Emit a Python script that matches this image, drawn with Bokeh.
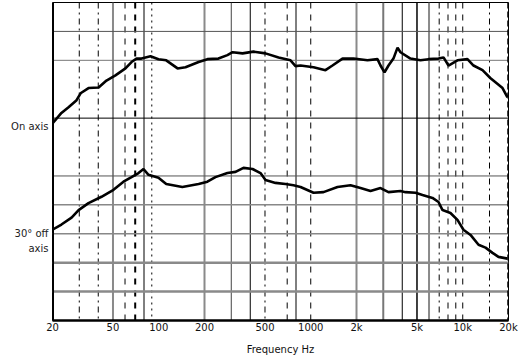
from bokeh.plotting import figure
from bokeh.models import Range1d, FixedTicker, Span
from bokeh.embed import file_html
from bokeh.resources import INLINE

# ---- data ----
on_freq = [20, 22.9, 25.5, 28.8, 30.6, 34.5, 40.2, 45.3, 51.9, 60.4, 66.2, 71.4, 77, 88.3, 99.6,
           112, 133, 150, 183, 209, 247, 283, 306, 356, 420, 504, 614, 736, 794, 857, 1043,
           1250, 1390, 1618, 1910, 2361, 2748, 2877, 3057, 3248, 3500, 3724, 3893, 4530,
           5273, 5954, 6925, 7472, 8058, 9232, 10740, 11770, 13490, 15240, 16420, 18270, 19690]
on_db = [34.1, 35.9, 36.9, 38.1, 39.3, 40.2, 40.3, 41.5, 42.4, 43.6, 44.7, 45.3, 45.3, 45.7, 45.2,
         45.0, 43.6, 43.8, 44.7, 45.2, 45.3, 45.9, 46.4, 46.2, 46.5, 46.2, 45.5, 45.0, 44.0, 44.1, 43.8,
         43.3, 44.1, 45.3, 45.3, 45.0, 45.2, 44.1, 42.9, 44.1, 45.3, 47.2, 46.4, 45.3,
         45.0, 45.2, 45.3, 45.5, 44.1, 45.0, 45.2, 44.1, 43.3, 41.9, 41.2, 40.2, 38.6]

off_freq = [20, 22.9, 26.7, 29.7, 34.5, 42.0, 50.4, 58.6, 66.2, 73.6, 79.4, 85.6, 99.6, 112,
            143, 183, 209, 236, 283, 320, 361, 414, 467, 504, 586, 682, 770, 857, 1043, 1213,
            1500, 1827, 2126, 2472, 2877, 3248, 3893, 4200, 4888, 5436, 6325, 6925, 7364, 8300,
            9232, 10110, 11250, 12700, 14120, 15700, 17180, 19690]
off_db = [15.7, 16.6, 17.8, 19.1, 20.3, 21.4, 22.6, 24.0, 24.8, 25.5, 26.2, 25.2, 24.7, 23.6,
          23.1, 23.6, 24.0, 24.8, 25.5, 25.7, 26.4, 26.2, 25.5, 24.3, 23.8, 23.6, 23.4, 23.1, 22.1, 22.2,
          23.1, 23.4, 22.9, 22.4, 22.9, 22.2, 22.4, 22.2, 22.1, 21.7, 21.2, 20.5, 19.1, 18.6,
          17.4, 15.7, 14.8, 13.1, 12.6, 11.7, 11.0, 10.7]

tick_freqs = [20, 50, 100, 200, 500, 1000, 2000, 5000, 10000, 20000]
tick_labels = ["20", "50", "100", "200", "500", "1000", "2k", "5k", "10k", "20k"]

vgrid_freqs = [30, 40, 50, 60, 70, 80, 90, 200, 300, 400, 500, 700, 800, 1000,
               2000, 3000, 4000, 5000, 6000, 7000, 8000, 9000, 10000, 15000]
hgrid_db = [50, 45, 35, 25, 20, 15, 10, 5]

series_label_db = [33.6, 15.0, 12.5]
series_labels = ["On axis", "30\u00b0 off", "axis"]

# ---- styles ----
vstyle = {
    30: ("black", 1, "dashdot"), 40: ("black", 1, "dashdot"), 50: ("#8a8a8a", 2, "solid"),
    60: ("black", 1, "dashed"), 70: ("black", 2, "dashed"), 80: ("black", 1, "solid"),
    90: ("black", 1, "dotted"), 200: ("#8a8a8a", 2, "solid"), 300: ("#444444", 1, "solid"),
    400: ("black", 1, "solid"), 500: ("black", 1, "dashdot"), 700: ("black", 1, "dashed"),
    800: ("black", 1, "solid"), 1000: ("black", 1, "dashed"), 2000: ("#8a8a8a", 2, "solid"),
    3000: ("#777777", 2, "solid"), 4000: ("black", 1, "solid"), 5000: ("black", 1.5, "solid"),
    6000: ("#8a8a8a", 2, "solid"), 7000: ("black", 1, "dashdot"), 8000: ("black", 1, "dashed"),
    9000: ("black", 1, "dashed"), 10000: ("black", 1, "dashed"), 15000: ("black", 1, "dashdot"),
}
hstyle = {50: ("#555555", 1), 45: ("#777777", 1), 35: ("black", 1), 25: ("#555555", 1),
          20: ("#888888", 1.5), 15: ("#888888", 1.5), 10: ("#8a8a8a", 2.5), 5: ("#8a8a8a", 2.5)}

FONT = "DejaVu Sans"

p = figure(width=518, height=357, x_axis_type="log",
           x_range=Range1d(20, 20000), y_range=Range1d(0, 55),
           output_backend="svg", toolbar_location=None,
           min_border_left=52, min_border_right=10, min_border_top=2, min_border_bottom=10)
p.background_fill_color = "white"
p.border_fill_color = "white"
p.outline_line_color = "black"
p.outline_line_width = 1
p.xgrid.visible = False
p.ygrid.visible = False

for f in vgrid_freqs:
    c, w, d = vstyle[f]
    p.add_layout(Span(location=f, dimension="height", line_color=c, line_width=w,
                      line_dash=d, level="underlay"))
for v in hgrid_db:
    c, w = hstyle[v]
    p.add_layout(Span(location=v, dimension="width", line_color=c, line_width=w,
                      level="underlay"))
# frame edges
p.add_layout(Span(location=20, dimension="height", line_color="black", line_width=3))
p.add_layout(Span(location=20000, dimension="height", line_color="black", line_width=2.5,
                  line_dash="6 3"))

p.line(on_freq, on_db, line_color="black", line_width=2.6)
p.line(off_freq, off_db, line_color="black", line_width=2.6)

# x axis
p.xaxis.ticker = FixedTicker(ticks=tick_freqs, minor_ticks=[])
p.xaxis.major_label_overrides = {f: l for f, l in zip(tick_freqs, tick_labels)}
p.xaxis.major_tick_line_color = None
p.xaxis.minor_tick_line_color = None
p.xaxis.major_tick_out = 0
p.xaxis.major_tick_in = 0
p.xaxis.minor_tick_out = 0
p.xaxis.axis_line_color = "black"
p.xaxis.axis_line_width = 2.5
p.xaxis.major_label_standoff = 1
p.xaxis.major_label_text_font = FONT
p.xaxis.major_label_text_font_size = "10px"
p.xaxis.major_label_text_color = "#111111"
p.xaxis.axis_label = "Frequency Hz"
p.xaxis.axis_label_text_font = FONT
p.xaxis.axis_label_text_font_size = "10px"
p.xaxis.axis_label_text_font_style = "normal"
p.xaxis.axis_label_text_color = "#111111"
p.xaxis.axis_label_standoff = 8

# y axis used for the series names on the left
p.yaxis.ticker = FixedTicker(ticks=series_label_db, minor_ticks=[])
p.yaxis.major_label_overrides = {v: t for v, t in zip(series_label_db, series_labels)}
p.yaxis.major_tick_line_color = None
p.yaxis.minor_tick_line_color = None
p.yaxis.major_tick_out = 0
p.yaxis.major_tick_in = 0
p.yaxis.minor_tick_out = 0
p.yaxis.axis_line_color = None
p.yaxis.major_label_standoff = 4
p.yaxis.major_label_text_font = FONT
p.yaxis.major_label_text_font_size = "10px"
p.yaxis.major_label_text_color = "#222222"

open("out.html", "w").write(file_html(p, INLINE))
